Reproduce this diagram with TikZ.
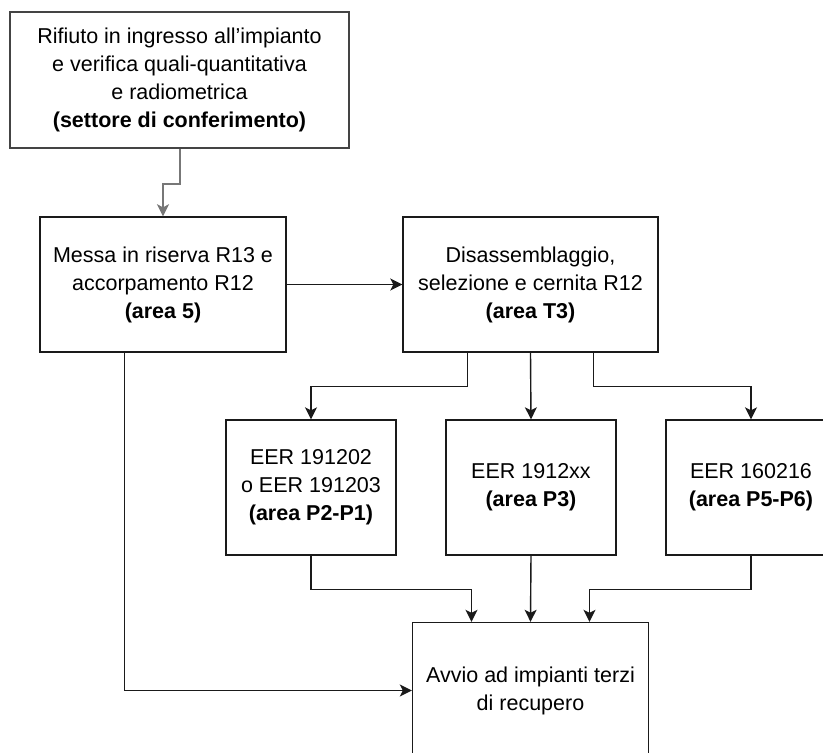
\documentclass[tikz,border=0pt]{standalone}
\usepackage{fontspec}
\setmainfont{Liberation Sans}
\usetikzlibrary{arrows.meta,positioning}
\definecolor{BoxLine}{HTML}{1A1A1A}
\definecolor{InLine}{HTML}{444444}
\definecolor{InFeed}{HTML}{777777}
\tikzset{
  stage/.style={draw=BoxLine,line width=1.4pt,minimum height=135pt,
    align=center,inner sep=2pt,font=\fontsize{21.5}{28}\selectfont},
  feed/.style={draw=BoxLine,line width=1.4pt,
    -{Stealth[length=12pt,width=12pt,inset=3pt]}}
}

\begin{document}
\begin{tikzpicture}[x=1pt,y=-1pt]
  \useasboundingbox (0,0) rectangle (823,753);
  \clip (0,0) rectangle (823,753);
  \node[stage,draw=InLine,line width=2pt,minimum width=339pt,minimum height=136pt] (ingresso) at (179.5,80)
    {Rifiuto in ingresso all’impianto\\e verifica quali-quantitativa\\e radiometrica\\\textbf{(settore di conferimento)}};
  \node[stage,minimum width=246pt] (riserva) at (163,284.5)
    {Messa in riserva R13 e\\accorpamento R12\\\textbf{(area 5)}};
  \node[stage,minimum width=255pt] (cernita) at (530.5,284.5)
    {Disassemblaggio,\\selezione e cernita R12\\\textbf{(area T3)}};
  \node[stage,minimum width=170pt] (eerA) at (311,487.5)
    {EER 191202\\o EER 191203\\\textbf{(area P2-P1)}};
  \node[stage,minimum width=170pt] (eerB) at (531,487.5)
    {EER 1912xx\\\textbf{(area P3)}};
  \node[stage,minimum width=170pt] (eerC) at (751,487.5)
    {EER 160216\\\textbf{(area P5-P6)}};
  \node[stage,minimum width=236pt,minimum height=136pt] (avvio) at (530.5,690.5)
    {Avvio ad impianti terzi\\di recupero};
  % ingresso -> riserva
  \draw[feed,draw=InFeed,line width=2pt] (ingresso.south) -- ++(0,34.5) -| (riserva.north);
  \draw[feed] (riserva.east) -- (cernita.west);
  % cernita -> EER
  \draw[feed] ([xshift=-63pt]cernita.south) -- ++(0,33.5) -| (eerA.north);
  \draw[feed] (cernita.south) -- (eerB.north);
  \draw[feed] ([xshift=63pt]cernita.south) -- ++(0,33.5) -| (eerC.north);
  % EER -> avvio
  \draw[feed] (eerA.south) -- ++(0,34) -| ([xshift=-59pt]avvio.north);
  \draw[feed] (eerB.south) -- (avvio.north);
  \draw[feed] (eerC.south) -- ++(0,34) -| ([xshift=59pt]avvio.north);
  \draw[feed] ([xshift=-38.7pt]riserva.south) |- (avvio.west);
\end{tikzpicture}
\end{document}
